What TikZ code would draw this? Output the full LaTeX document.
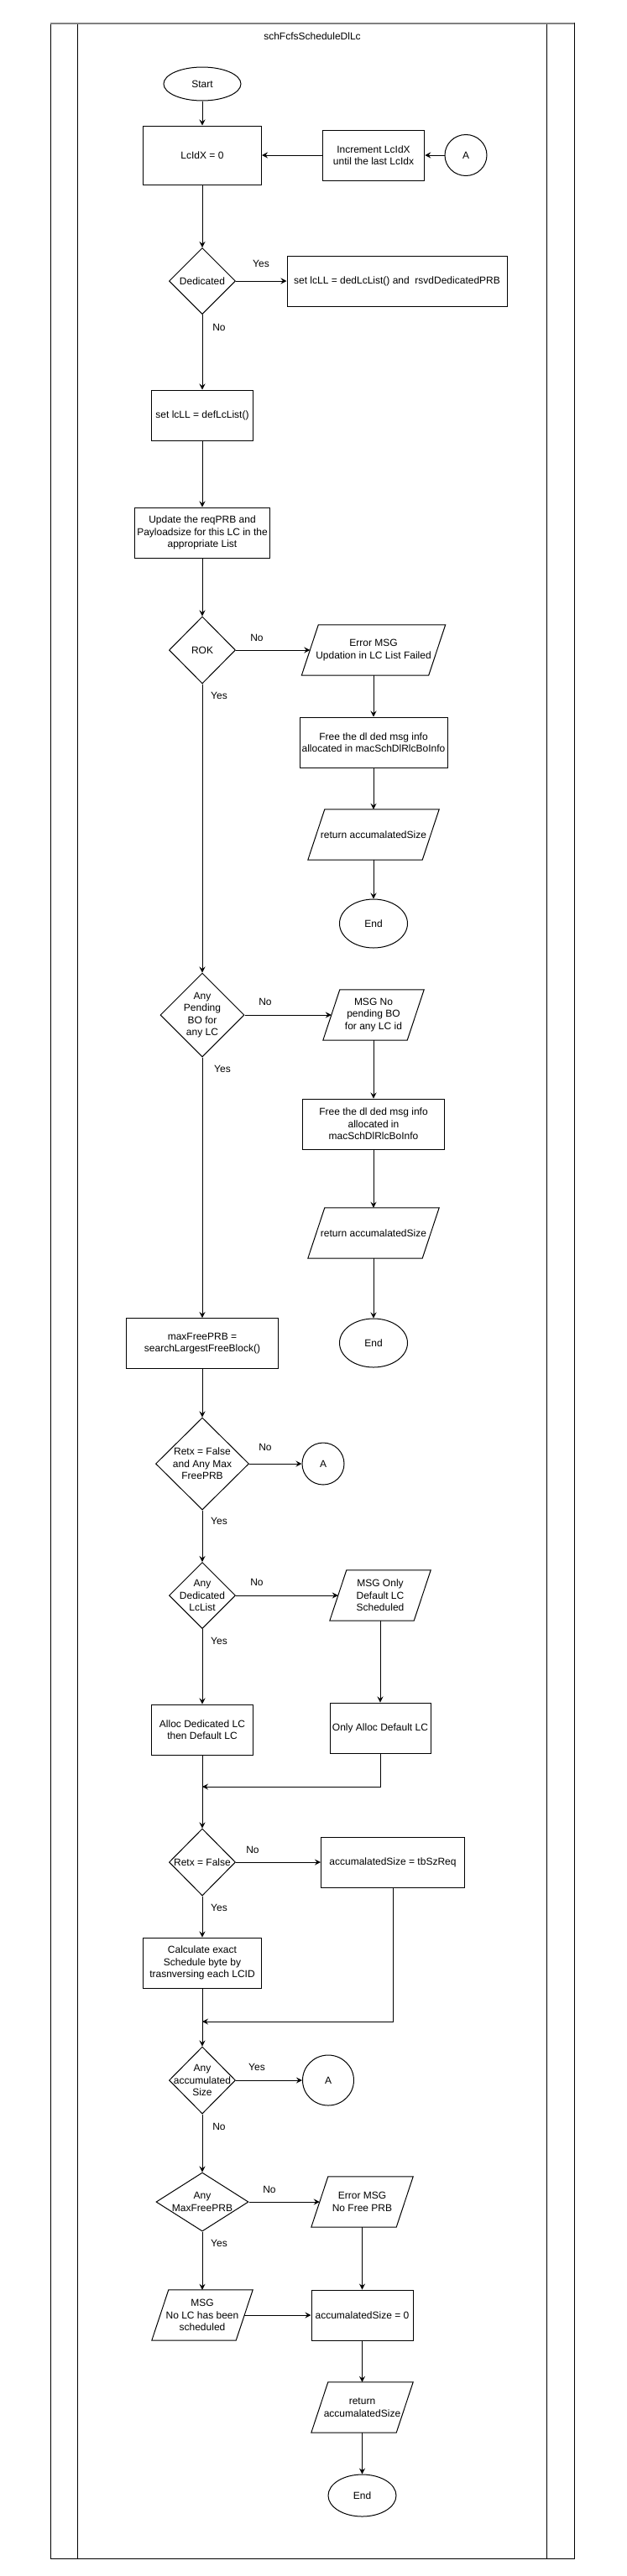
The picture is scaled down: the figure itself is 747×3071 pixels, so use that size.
\documentclass[tikz,border=0pt]{standalone}
\usepackage{fontspec}
\setmainfont{Liberation Sans}
\usetikzlibrary{shapes.geometric,arrows.meta}
\newcommand{\parashape}[1]{\draw[line width=1pt] ([xshift=10pt]#1.north west) -- ([xshift=10pt]#1.north east) -- ([xshift=-10pt]#1.south east) -- ([xshift=-10pt]#1.south west) -- cycle;}
\begin{document}
\begin{tikzpicture}[x=1pt,y=-1pt,
  every node/.style={font=\fontsize{12}{14.5}\selectfont, align=center, inner sep=0pt},
  proc/.style={draw, rectangle, line width=1pt, minimum height=60pt},
  term/.style={draw, ellipse, line width=1pt},
  dec/.style={draw, diamond, line width=1pt},
  para/.style={rectangle, minimum height=60pt},
  lbl/.style={},
  arr/.style={line width=1pt, -{Stealth[length=7pt,width=7pt,inset=2.5pt]}}]
\useasboundingbox (0,0) rectangle (747,3071);
% pool frame
\draw[line width=1pt] (60,27.7) rectangle (684,3050);
\draw[line width=1pt] (92.7,27.7) -- (92.7,3050);
\draw[line width=1pt] (651.5,27.7) -- (651.5,3050);
\draw[gray, line width=1.6pt] (60,27.7) -- (684,27.7);
\node (title) at (372,43) {schFcfsScheduleDlLc};

% nodes
\node[term, minimum width=92pt, minimum height=40pt] (start) at (241,100) {Start};
\node[proc, minimum width=141pt, minimum height=70pt] (lcidx) at (241,185) {LcIdX = 0};
\node[proc, minimum width=121.5pt] (incr) at (445,185) {Increment LcIdX\\until the last LcIdx};
\node[term, minimum width=50pt, minimum height=49pt] (a1) at (555,185) {A};
\node[dec, minimum width=79pt, minimum height=79pt, label={center:Dedicated}] (ded) at (241,335) {};
\node[proc, minimum width=262pt] (setded) at (473,335) {set lcLL = dedLcList() and\ \ rsvdDedicatedPRB};
\node[proc, minimum width=121pt] (setdef) at (241,495) {set lcLL = defLcList()};
\node[proc, minimum width=161pt] (upd) at (241,635) {Update the reqPRB and\\Payloadsize for this LC in the\\appropriate List};
\node[dec, minimum width=79pt, minimum height=80pt, label={center:ROK}] (rok) at (241,775) {};
\node[para, minimum width=151pt] (err1) at (445,775) {Error MSG\\Updation in LC List Failed};
\parashape{err1}
\node[proc, minimum width=176pt] (free1) at (445,885) {Free the dl ded msg info\\allocated in macSchDlRlcBoInfo};
\node[para, minimum width=136pt] (ret1) at (445,995) {return accumalatedSize};
\parashape{ret1}
\node[term, minimum width=81pt, minimum height=58pt] (end1) at (445,1101) {End};
\node[dec, minimum width=100pt, minimum height=100pt, label={center:Any\\Pending\\BO for\\any LC}] (pend) at (241,1210) {};
\node[para, minimum width=100pt] (msgnp) at (445,1210) {MSG No\\pending BO\\for any LC id};
\parashape{msgnp}
\node[proc, minimum width=169pt] (free2) at (445,1340) {Free the dl ded msg info\\allocated in\\macSchDlRlcBoInfo};
\node[para, minimum width=136pt] (ret2) at (445,1470) {return accumalatedSize};
\parashape{ret2}
\node[term, minimum width=81pt, minimum height=58pt] (end2) at (445,1601) {End};
\node[proc, minimum width=181pt] (maxf) at (241,1601.5) {maxFreePRB =\\searchLargestFreeBlock()};
\node[dec, minimum width=111pt, minimum height=110pt, label={center:Retx = False\\and Any Max\\FreePRB}] (retx1) at (241,1745) {};
\node[term, minimum width=50pt, minimum height=50pt] (a2) at (385,1745) {A};
\node[dec, minimum width=79pt, minimum height=79pt, label={center:Any\\Dedicated\\LcList}] (anyded) at (241,1902) {};
\node[para, minimum width=100pt] (msgonly) at (453,1902) {MSG Only\\Default LC\\Scheduled};
\parashape{msgonly}
\node[proc, minimum width=121pt] (allocded) at (241,2062) {Alloc Dedicated LC\\then Default LC};
\node[proc, minimum width=120pt] (onlyalloc) at (453,2060) {Only Alloc Default LC};
\coordinate (m1) at (241,2130);
\node[dec, minimum width=79pt, minimum height=80pt, label={center:Retx = False}] (retx2) at (241,2220) {};
\node[proc, minimum width=171pt] (acctb) at (468,2220) {accumalatedSize = tbSzReq};
\node[proc, minimum width=141pt] (calc) at (241,2340) {Calculate exact\\Schedule byte by\\trasnversing each LCID};
\coordinate (m2) at (241,2410);
\node[dec, minimum width=79pt, minimum height=80pt, label={center:Any\\accumulated\\Size}] (anyacc) at (241,2480) {};
\node[term, minimum width=61pt, minimum height=60pt] (a3) at (391,2480) {A};
\node[dec, minimum width=110pt, minimum height=70pt, label={center:Any\\MaxFreePRB}] (anymax) at (241,2625) {};
\node[para, minimum width=101pt] (errnf) at (431.5,2625) {Error MSG\\No Free PRB};
\parashape{errnf}
\node[para, minimum width=100pt] (msgnolc) at (241,2760) {MSG\\No LC has been\\scheduled};
\parashape{msgnolc}
\node[proc, minimum width=121pt] (acc0) at (431.5,2760) {accumalatedSize = 0};
\node[para, minimum width=101pt] (ret3) at (431.5,2870) {return\\accumalatedSize};
\parashape{ret3}
\node[term, minimum width=81pt, minimum height=50pt] (end3) at (431.5,2975) {End};

% labels
\node (l1) at (311,314) {Yes};
\node (l2) at (261,390) {No};
\node (l3) at (306,760) {No};
\node (l4) at (261,829) {Yes};
\node (l5) at (316,1194) {No};
\node (l6) at (265,1274) {Yes};
\node (l7) at (316,1725) {No};
\node (l8) at (261,1813) {Yes};
\node (l9) at (306,1886) {No};
\node (l10) at (261,1956) {Yes};
\node (l11) at (301,2205) {No};
\node (l12) at (261,2274) {Yes};
\node (l13) at (306,2464) {Yes};
\node (l14) at (261,2535) {No};
\node (l15) at (321,2610) {No};
\node (l16) at (261,2674) {Yes};

% connectors
\draw[arr] (start) -- (lcidx);
\draw[arr] (a1) -- (incr);
\draw[arr] (incr) -- (lcidx);
\draw[arr] (lcidx) -- (ded);
\draw[arr] (ded) -- (setded);
\draw[arr] (ded) -- (setdef);
\draw[arr] (setdef) -- (upd);
\draw[arr] (upd) -- (rok);
\draw[arr] (rok) -- (err1);
\draw[arr] (err1) -- (free1);
\draw[arr] (free1) -- (ret1);
\draw[arr] (ret1) -- (end1);
\draw[arr] (rok) -- (pend);
\draw[arr] (pend) -- (msgnp);
\draw[arr] (msgnp) -- (free2);
\draw[arr] (free2) -- (ret2);
\draw[arr] (ret2) -- (end2);
\draw[arr] (pend) -- (maxf);
\draw[arr] (maxf) -- (retx1);
\draw[arr] (retx1) -- (a2);
\draw[arr] (retx1) -- (anyded);
\draw[arr] (anyded) -- (msgonly);
\draw[arr] (msgonly) -- (onlyalloc);
\draw[arr] (anyded) -- (allocded);
\draw[arr] (allocded) -- (retx2);
\draw[arr] (onlyalloc.south) |- (m1);
\draw[arr] (retx2) -- (acctb);
\draw[arr] (retx2) -- (calc);
\draw[arr] (calc) -- (anyacc);
\draw[arr] (acctb.south) |- (m2);
\draw[arr] (anyacc) -- (a3);
\draw[arr] (anyacc) -- (anymax);
\draw[arr] (anymax) -- (errnf);
\draw[arr] (anymax) -- (msgnolc);
\draw[arr] (msgnolc) -- (acc0);
\draw[arr] (errnf) -- (acc0);
\draw[arr] (acc0) -- (ret3);
\draw[arr] (ret3) -- (end3);
\end{tikzpicture}
\end{document}
